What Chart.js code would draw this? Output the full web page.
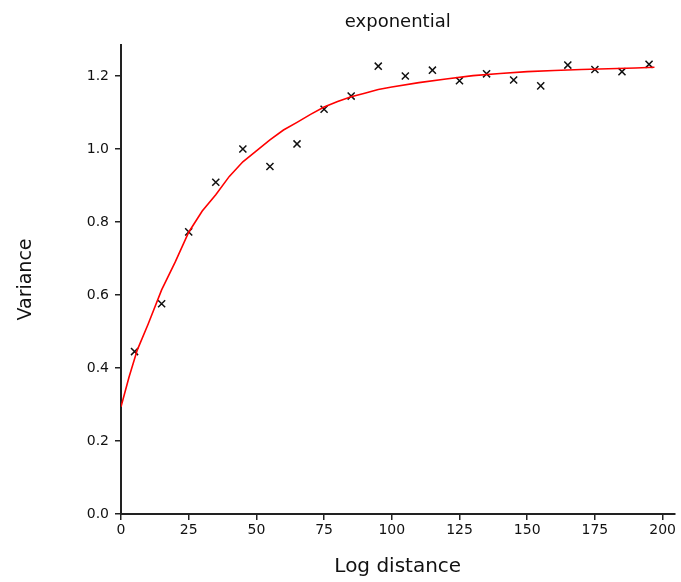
<!DOCTYPE html>
<html>
<head>
<meta charset="utf-8">
<script src="https://cdn.jsdelivr.net/npm/chart.js@4.4.0/dist/chart.umd.min.js"></script>
<style>
  html, body { margin: 0; padding: 0; background: #fff; }
  #wrap { width: 681px; height: 582px; position: relative; }
</style>
</head>
<body>
<div id="wrap"><canvas id="c" width="681" height="582"></canvas></div>
<script>
// ---- data ----
const titleText = "exponential";
const xAxisTitle = "Log distance";
const yAxisTitle = "Variance";

const lags = [5, 15, 25, 35, 45, 55, 65, 75, 85, 95, 105, 115, 125, 135, 145, 155, 165, 175, 185, 195];
const variances = [0.445, 0.576, 0.773, 0.909, 1.000, 0.952, 1.014, 1.109, 1.145, 1.227, 1.200, 1.216, 1.187, 1.206, 1.189, 1.173, 1.230, 1.218, 1.212, 1.232];

const modelLags = [0, 3, 6, 10, 15, 20, 25, 30, 35, 40, 45, 50, 55, 60, 65, 70, 75, 80, 85, 90, 95, 100, 110, 120, 130, 140, 150, 160, 170, 180, 190, 197];
const modelValues = [0.294, 0.376, 0.449, 0.520, 0.614, 0.690, 0.772, 0.830, 0.875, 0.925, 0.965, 0.995, 1.025, 1.052, 1.073, 1.095, 1.115, 1.130, 1.143, 1.153, 1.163, 1.170, 1.182, 1.192, 1.201, 1.207, 1.212, 1.215, 1.218, 1.220, 1.222, 1.224];

const xTicks = [0, 25, 50, 75, 100, 125, 150, 175, 200];
const yTicks = [0.0, 0.2, 0.4, 0.6, 0.8, 1.0, 1.2];

// ---- chart ----
const FONT = "'DejaVu Sans', 'Liberation Sans', sans-serif";
const TXT = '#111';

const titlePlugin = {
  id: 'centeredTitle',
  afterDraw(chart) {
    const {ctx, chartArea} = chart;
    ctx.save();
    ctx.font = "18px " + FONT;
    ctx.fillStyle = TXT;
    ctx.textAlign = 'center';
    ctx.textBaseline = 'middle';
    ctx.fillText(titleText, (chartArea.left + chartArea.right) / 2, 22);
    ctx.restore();
  }
};

new Chart(document.getElementById('c'), {
  type: 'scatter',
  data: {
    datasets: [
      {
        type: 'line',
        label: 'model',
        data: modelLags.map((x, i) => ({x: x, y: modelValues[i]})),
        borderColor: '#ff0000',
        borderWidth: 1.6,
        pointRadius: 0,
        fill: false,
        tension: 0
      },
      {
        label: 'empirical',
        data: lags.map((x, i) => ({x: x, y: variances[i]})),
        pointStyle: 'crossRot',
        pointRadius: 5,
        pointBorderColor: '#111',
        pointBorderWidth: 1.5,
        showLine: false
      }
    ]
  },
  options: {
    responsive: false,
    animation: false,
    devicePixelRatio: 1,
    layout: { padding: { top: 45, right: -2.5, left: 0, bottom: 0 } },
    plugins: {
      legend: { display: false },
      title: { display: false },
      tooltip: { enabled: false }
    },
    scales: {
      x: {
        type: 'linear',
        min: 0,
        max: 204.4,
        afterBuildTicks(scale) { scale.ticks = xTicks.map(v => ({value: v})); },
        afterFit(scale) { scale.height = 68; scale.paddingRight = 0; scale.paddingLeft = 0; },
        ticks: {
          color: TXT,
          font: { family: FONT, size: 14 },
          padding: 2,
          maxRotation: 0,
          autoSkip: false,
          callback: v => String(v)
        },
        grid: {
          display: true,
          drawOnChartArea: false,
          drawTicks: true,
          tickLength: 6,
          color: '#222',
          lineWidth: 1.5
        },
        border: { display: true, color: '#222', width: 2 },
        title: {
          display: true,
          text: xAxisTitle,
          color: TXT,
          font: { family: FONT, size: 20 },
          padding: { top: 0, bottom: 3 }
        }
      },
      y: {
        type: 'linear',
        min: 0,
        max: 1.285,
        afterBuildTicks(scale) { scale.ticks = yTicks.map(v => ({value: v})); },
        afterFit(scale) { scale.width = 121; scale.paddingTop = 0; scale.paddingBottom = 0; },
        ticks: {
          color: TXT,
          font: { family: FONT, size: 14 },
          padding: 6,
          autoSkip: false,
          callback: v => Number(v).toFixed(1)
        },
        grid: {
          display: true,
          drawOnChartArea: false,
          drawTicks: true,
          tickLength: 6,
          color: '#222',
          lineWidth: 1.5
        },
        border: { display: true, color: '#222', width: 2 },
        title: {
          display: true,
          text: yAxisTitle,
          color: TXT,
          font: { family: FONT, size: 19 },
          padding: { top: 15, bottom: 0 }
        }
      }
    }
  },
  plugins: [titlePlugin]
});
</script>
</body>
</html>
